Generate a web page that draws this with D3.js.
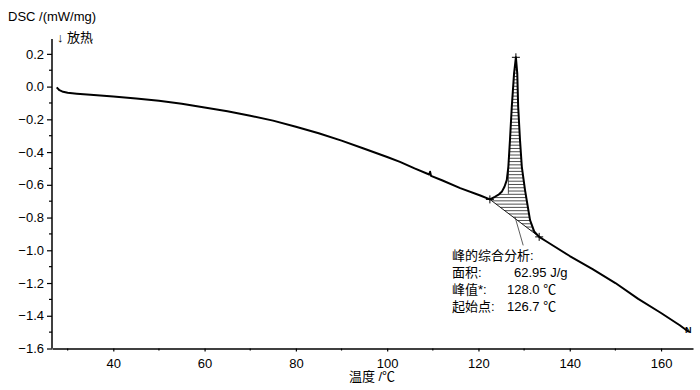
<!DOCTYPE html>
<html>
<head>
<meta charset="utf-8">
<script src="https://cdn.jsdelivr.net/npm/d3@7"></script>
<style>
  body { margin: 0; background: #fff; }
  svg { display: block; font-family: "Liberation Sans", Arial, "Noto Sans CJK SC", sans-serif; }
</style>
</head>
<body>
<svg id="chart" width="700" height="390"></svg>
<script>
// DSC curve, temperature in degC and signal in mW/mg
let temps = [27.6, 28.2, 29, 30, 32, 35, 40, 45, 50, 55, 60, 65, 70, 75, 80, 85, 90, 95, 100, 102.8,
    106, 109.2, 109.4, 109.6, 112, 116, 120.4, 122.5,
    123.6, 124.5, 125.1, 125.7, 126.2, 126.55, 126.9, 127.3, 127.8, 128.2,
    128.5, 128.7, 129.1, 129.5, 130.2, 131.3, 132.2, 133.3,
    135, 140, 145, 150, 155, 160, 164.1, 166.1]
let dsc = [-0.005, -0.022, -0.032, -0.038, -0.043, -0.05, -0.06, -0.072, -0.087, -0.105, -0.127, -0.15, -0.178, -0.208, -0.245, -0.285, -0.33, -0.38, -0.43, -0.46,
    -0.5, -0.537, -0.52, -0.545, -0.572, -0.62, -0.665, -0.689,
    -0.673, -0.658, -0.643, -0.612, -0.571, -0.49, -0.327, -0.123, 0.081, 0.179,
    0.081, -0.123, -0.327, -0.49, -0.632, -0.816, -0.885, -0.918,
    -0.948, -1.035, -1.115, -1.2, -1.297, -1.383, -1.458, -1.499]

// peak evaluation markers
let onset = [122.5, -0.689]
let peak = [128.2, 0.179]
let endset = [133.3, -0.918]
let hatchEdge = [126.55, -0.655]

let yTicks = [-1.6, -1.4, -1.2, -1.0, -0.8, -0.6, -0.4, -0.2, 0.0, 0.2]
let xTicks = [40, 60, 80, 100, 120, 140, 160]

let resultTitle = '峰的综合分析:'
let resultLabels = ['面积:', '峰值*:', '起始点:']
let resultValues = ['62.95 J/g', '128.0 ℃', '126.7 ℃']

let svg = d3.select('#chart')

let x = d3.scaleLinear().domain([26.57, 167.0]).range([52, 693])
let y = d3.scaleLinear().domain([-1.6, 0.0]).range([348.5, 86.6])
let yTop = y.invert(39)

let data = temps.map((t, i) => [t, dsc[i]])

// axes
let yAxis = d3.axisLeft(y).tickValues(yTicks).tickFormat(d3.format('.1f')).tickSize(5).tickSizeOuter(0)
let gy = svg.append('g').attr('transform', 'translate(52,0)').call(yAxis)
gy.select('.domain').attr('d', 'M0,' + y(yTop) + 'V' + y(-1.6)).attr('stroke-width', 1.5)
gy.selectAll('.tick text').attr('font-size', 13).attr('fill', '#000').attr('x', -8)
gy.selectAll('.tick line').attr('stroke-width', 1.2)
let yMinor = d3.range(-1.5, 0.3, 0.2)
gy.selectAll('.minor').data(yMinor).enter().append('line')
    .attr('x1', -3).attr('x2', 0)
    .attr('y1', d => y(d)).attr('y2', d => y(d))
    .attr('stroke', '#000').attr('stroke-width', 1.2)

let xAxis = d3.axisBottom(x).tickValues(xTicks).tickFormat(d3.format('d')).tickSize(3).tickSizeOuter(0)
let gx = svg.append('g').attr('transform', 'translate(0,' + y(-1.6) + ')').call(xAxis)
gx.select('.domain').attr('stroke-width', 1.5)
gx.selectAll('.tick text').attr('font-size', 13).attr('fill', '#000').attr('y', 10)
gx.selectAll('.tick line').attr('stroke-width', 1.2)
let xMinor = d3.range(30, 167, 10).filter(d => d % 20 !== 0)
gx.selectAll('.minor').data(xMinor).enter().append('line')
    .attr('x1', d => x(d)).attr('x2', d => x(d))
    .attr('y1', 0).attr('y2', 2)
    .attr('stroke', '#000').attr('stroke-width', 1.2)

// titles
svg.append('text').attr('x', 8).attr('y', 21).attr('font-size', 13).text('DSC /(mW/mg)')
svg.append('text').attr('x', 57).attr('y', 42).attr('font-size', 13).text('↓ 放热')
svg.append('text').attr('x', 372).attr('y', 381).attr('font-size', 13)
    .attr('text-anchor', 'middle').text('温度 /℃')

// hatched peak area: curve from onset, step at the shoulder, curve to endset, baseline back
let i0 = temps.indexOf(onset[0])
let i1 = temps.indexOf(endset[0])
let iEdge = temps.indexOf(hatchEdge[0])
let outline = data.slice(i0, i0 + 2)
    .concat([[124.5, hatchEdge[1]], hatchEdge])
    .concat(data.slice(iEdge, i1 + 1))
svg.append('clipPath').attr('id', 'peakClip')
    .append('path')
    .attr('d', d3.line().x(d => x(d[0])).y(d => y(d[1]))(outline) + 'Z')

let hatch = svg.append('g').attr('clip-path', 'url(#peakClip)')
let hatchVals = d3.range(endset[1], peak[1] + 0.001, 0.02)
hatch.selectAll('line').data(hatchVals).enter().append('line')
    .attr('x1', x(onset[0]) - 2).attr('x2', x(endset[0]) + 2)
    .attr('y1', d => y(d)).attr('y2', d => y(d))
    .attr('stroke', '#222').attr('stroke-width', 0.8)

svg.append('line')
    .attr('x1', x(hatchEdge[0])).attr('x2', x(hatchEdge[0]))
    .attr('y1', y(-0.49)).attr('y2', y(hatchEdge[1]))
    .attr('stroke', '#222').attr('stroke-width', 0.8)

// baseline between onset and endset
svg.append('line')
    .attr('x1', x(onset[0])).attr('y1', y(onset[1]))
    .attr('x2', x(endset[0])).attr('y2', y(endset[1]))
    .attr('stroke', '#000').attr('stroke-width', 0.9)

// main curve
svg.append('path').datum(data)
    .attr('d', d3.line().x(d => x(d[0])).y(d => y(d[1])))
    .attr('fill', 'none').attr('stroke', '#000').attr('stroke-width', 2)
    .attr('stroke-linejoin', 'round')

// markers
svg.selectAll('.mark').data([onset, peak, endset]).enter().append('path')
    .attr('d', d => {
        let cx = x(d[0]), cy = y(d[1])
        return 'M' + (cx - 4) + ',' + cy + 'H' + (cx + 4) + 'M' + cx + ',' + (cy - 4) + 'V' + (cy + 4)
    })
    .attr('stroke', '#000').attr('stroke-width', 1)

// end marker
let last = data[data.length - 1]
svg.append('text').attr('x', x(last[0]) - 4).attr('y', y(last[1]) + 1)
    .attr('font-size', 9).attr('font-weight', 'bold').text('N')

// leader line to result box
svg.append('line')
    .attr('x1', x(128.0)).attr('y1', y(-0.795))
    .attr('x2', x(129.8)).attr('y2', y(-0.97))
    .attr('stroke', '#333').attr('stroke-width', 0.8)

// result text
let tx = 452
svg.append('text').attr('x', tx).attr('y', 260).attr('font-size', 13).text(resultTitle)
resultLabels.forEach((l, i) => {
    svg.append('text').attr('x', tx).attr('y', 277 + i * 17).attr('font-size', 13).text(l)
    svg.append('text').attr('x', i === 0 ? 514 : 507).attr('y', 277 + i * 17).attr('font-size', 13).text(resultValues[i])
})
</script>
</body>
</html>
